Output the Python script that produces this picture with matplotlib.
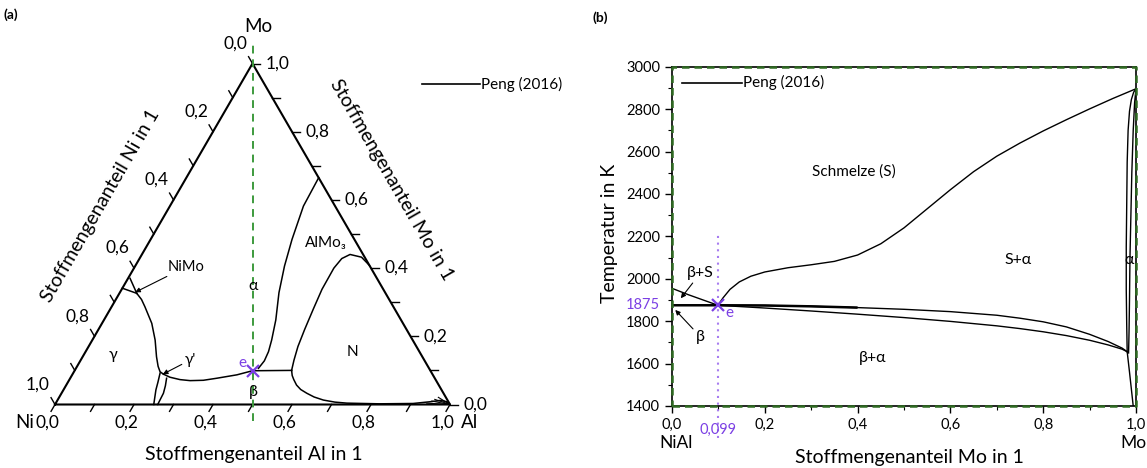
import numpy as np
import matplotlib
matplotlib.use("Agg")
import matplotlib.pyplot as plt

plt.rcParams["font.family"] = ["Lato", "DejaVu Sans"]

PURPLE = "#7b3fe4"
PURPLE_LIGHT = "#a77cf0"
GREEN = "#3d9a3d"
DARK_GREEN = "#2f6a22"
H = np.sqrt(3) / 2

# ---- (a) isothermal section Ni-Al-Mo, compositions as (x_Al, x_Mo) ----
tern_ticks = [0.0, 0.2, 0.4, 0.6, 0.8, 1.0]

# alpha / AlMo3
b_alpha_al = [0.335, 0.338, 0.358, 0.378, 0.403, 0.435, 0.454, 0.463, 0.466, 0.462]
b_alpha_mo = [0.665, 0.582, 0.484, 0.406, 0.328, 0.248, 0.189, 0.155, 0.128, 0.106]
# AlMo3 / N dome
b_dome_al = [0.592, 0.560, 0.527, 0.512, 0.506, 0.507, 0.514, 0.522, 0.530, 0.540, 0.549]
b_dome_mo = [0.408, 0.432, 0.440, 0.428, 0.400, 0.338, 0.280, 0.220, 0.170, 0.130, 0.100]
# three-phase tie line from e to N
b_tie_al = [0.4505, 0.549]
b_tie_mo = [0.099, 0.100]
# lower boundary of N towards the Al corner
b_n_al = [0.549, 0.558, 0.568, 0.583, 0.600, 0.621, 0.645, 0.673, 0.705, 0.737, 0.820, 0.905, 0.945, 0.970, 0.988, 1.0]
b_n_mo = [0.100, 0.085, 0.073, 0.057, 0.044, 0.033, 0.022, 0.013, 0.007, 0.004, 0.002, 0.003, 0.008, 0.012, 0.008, 0.0]
# fan of lines into the Al corner
fan_al = [0.939, 0.949, 0.954, 0.960]
fan_mo = [0.004, 0.010, 0.015, 0.021]
# gamma' / beta
b_gp_al = [0.230, 0.251, 0.280, 0.307, 0.340, 0.371, 0.417, 0.4505]
b_gp_mo = [0.089, 0.080, 0.073, 0.070, 0.071, 0.077, 0.087, 0.099]
# gamma boundary coming down from NiMo
b_gam_al = [0.044, 0.065, 0.084, 0.126, 0.159, 0.187, 0.205, 0.218, 0.230]
b_gam_mo = [0.326, 0.308, 0.287, 0.238, 0.189, 0.140, 0.112, 0.096, 0.089]
# gamma / gamma' two-phase field down to the Ni-Al edge
b_g1_al = [0.220, 0.228, 0.234, 0.250]
b_g1_mo = [0.092, 0.065, 0.043, 0.0]
b_g2_al = [0.244, 0.252, 0.258, 0.260]
b_g2_mo = [0.077, 0.055, 0.033, 0.0]
# NiMo corner field
nimo1_al = [0.0, 0.044]
nimo1_mo = [0.341, 0.326]
nimo2_al = [0.005, 0.044]
nimo2_mo = [0.370, 0.326]

e_al, e_mo = 0.4505, 0.099

# ---- (b) quasi-binary section NiAl-Mo ----
liq_r_x = [0.099, 0.110, 0.125, 0.145, 0.170, 0.200, 0.250, 0.300, 0.350, 0.400,
           0.450, 0.500, 0.550, 0.600, 0.650, 0.700, 0.750, 0.800, 0.850, 0.900,
           0.950, 1.0]
liq_r_t = [1875, 1910, 1950, 1985, 2012, 2032, 2052, 2066, 2082, 2112,
           2165, 2240, 2330, 2420, 2505, 2578, 2640, 2697, 2750, 2801,
           2850, 2896]
liq_l_x = [0.0, 0.035, 0.067, 0.099]
liq_l_t = [1955, 1925, 1900, 1875]
eut_x = [0.0, 0.099, 0.200, 0.300, 0.400]
eut_t = [1875, 1875, 1874, 1870, 1864]
sol_up_x = [0.099, 0.200, 0.300, 0.400, 0.500, 0.600, 0.700, 0.750, 0.800, 0.850,
            0.900, 0.940, 0.970, 0.981]
sol_up_t = [1875, 1874, 1870, 1864, 1856, 1845, 1828, 1814, 1797, 1773,
            1738, 1704, 1673, 1656]
sol_lo_x = [0.099, 0.200, 0.300, 0.400, 0.500, 0.600, 0.700, 0.750, 0.800, 0.850,
            0.900, 0.940, 0.970, 0.981]
sol_lo_t = [1875, 1862, 1848, 1833, 1817, 1799, 1778, 1765, 1750, 1732,
            1710, 1688, 1668, 1656]
alpha_liq_x = [1.0, 0.995, 0.990, 0.986, 0.983, 0.981, 0.980, 0.979, 0.979, 0.980, 0.981]
alpha_liq_t = [2896, 2880, 2845, 2790, 2700, 2550, 2350, 2150, 1950, 1780, 1656]
alpha_sol_x = [1.0, 0.997, 0.994, 0.991, 0.989, 0.987, 0.986, 0.985, 0.984]
alpha_sol_t = [2896, 2830, 2700, 2500, 2300, 2100, 1900, 1750, 1650]
alpha_low_x = [0.981, 0.986, 0.990, 0.994]
alpha_low_t = [1656, 1560, 1480, 1400]
e_x, e_t = 0.099, 1875

x_ticks = [0.0, 0.2, 0.4, 0.6, 0.8, 1.0]
x_labels = ["0,0", "0,2", "0,4", "0,6", "0,8", "1,0"]
t_ticks = [1400, 1600, 1800, 2000, 2200, 2400, 2600, 2800, 3000]


def txy(al, mo):
    al = np.asarray(al, dtype=float)
    mo = np.asarray(mo, dtype=float)
    return al + mo / 2, mo * H


def comma(v):
    return f"{v:.1f}".replace(".", ",")


fig = plt.figure(figsize=(11.47, 4.68), dpi=100)

# ------------------------------------------------------------------ (a)
ax = fig.add_axes([55 / 1147, 1 - 404.5 / 468, 395 / 1147, 341 / 468])
ax.set_xlim(0, 1)
ax.set_ylim(0, H)
ax.axis("off")

kw = dict(color="black", lw=1.0, clip_on=False)
ax.plot([0, 1, 0.5, 0], [0, 0, H, 0], color="black", lw=1.5, clip_on=False)

L = 0.02
for v in np.arange(0, 1.001, 0.1):
    # Al axis (bottom)
    ax.plot([v, v - 0.5 * L], [0, -H * L], **kw)
    # Mo axis (right edge)
    x0, y0 = txy(1 - v, v)
    ax.plot([x0, x0 + L], [y0, y0], **kw)
    # Ni axis (left edge)
    x0, y0 = txy(0, 1 - v)
    ax.plot([x0, x0 - 0.5 * L], [y0, y0 + H * L], **kw)

for v in tern_ticks:
    ax.text(v - 0.02, -0.045, comma(v), ha="center", va="center", fontsize=12.5)
    x0, y0 = txy(1 - v, v)
    ax.text(x0 + 0.033, y0, comma(v), ha="left", va="center", fontsize=12.5)
    x0, y0 = txy(0, 1 - v)
    ax.text(x0 - 0.043, y0 + 0.051, comma(v), ha="center", va="center", fontsize=12.5)

ax.text(-0.076, -0.045, "Ni", ha="center", va="center", fontsize=13.5)
ax.text(1.05, -0.045, "Al", ha="center", va="center", fontsize=13.5)
ax.text(0.515, 0.961, "Mo", ha="center", va="center", fontsize=13.5)
ax.text(0.504, -0.128, "Stoffmengenanteil Al in 1", ha="center", va="center", fontsize=14)
ax.text(0.114, 0.505, "Stoffmengenanteil Ni in 1", ha="center", va="center",
        fontsize=14, rotation=60, rotation_mode="anchor")
ax.text(0.851, 0.571, "Stoffmengenanteil Mo in 1", ha="center", va="center",
        fontsize=14, rotation=-60, rotation_mode="anchor")

ax.plot([0.5, 0.5], [-0.041, 0.923], color=GREEN, lw=1.4, ls=(0, (4, 3)), clip_on=False)

for xs, ys in [(b_alpha_al, b_alpha_mo), (b_dome_al, b_dome_mo), (b_tie_al, b_tie_mo),
               (b_n_al, b_n_mo), (b_gp_al, b_gp_mo), (b_gam_al, b_gam_mo),
               (b_g1_al, b_g1_mo), (b_g2_al, b_g2_mo), (nimo1_al, nimo1_mo),
               (nimo2_al, nimo2_mo)]:
    px, py = txy(xs, ys)
    ax.plot(px, py, color="black", lw=1.1, clip_on=False)
for a, m in zip(fan_al, fan_mo):
    px, py = txy([a, 1.0], [m, 0.0])
    ax.plot(px, py, color="black", lw=0.8, clip_on=False)

ex, ey = txy(e_al, e_mo)
ax.plot(ex, ey, marker="x", color=PURPLE, ms=8, mew=1.6, clip_on=False)
ax.text(0.475, 0.105, "e", color=PURPLE, ha="center", va="center", fontsize=11)

ax.text(0.501, 0.300, "α", ha="center", va="center", fontsize=11.5)
ax.text(0.686, 0.411, "AlMo₃", ha="center", va="center", fontsize=11)
ax.text(0.754, 0.133, "N", ha="center", va="center", fontsize=11)
ax.text(0.147, 0.125, "γ", ha="center", va="center", fontsize=11.5)
ax.text(0.501, 0.032, "β", ha="center", va="center", fontsize=11.5)

arrow = dict(arrowstyle="-|>", color="black", lw=0.8, mutation_scale=7, shrinkA=0, shrinkB=0)
ax.annotate("NiMo", xy=(0.203, 0.285), xytext=(0.286, 0.350), fontsize=10.5,
            ha="left", va="center", arrowprops=arrow, annotation_clip=False)
ax.annotate("γ'", xy=(0.273, 0.077), xytext=(0.328, 0.113), fontsize=11,
            ha="left", va="center", arrowprops=arrow, annotation_clip=False)

ax.plot([0.929, 1.076], [0.814, 0.814], color="black", lw=1.2, clip_on=False)
ax.text(1.078, 0.814, "Peng (2016)", ha="left", va="center", fontsize=11)

# ------------------------------------------------------------------ (b)
bx = fig.add_axes([672 / 1147, 1 - 406 / 468, 464 / 1147, 339.3 / 468])
bx.set_xlim(0, 1)
bx.set_ylim(1400, 3000)
bx.set_xticks(x_ticks)
bx.set_xticklabels(x_labels)
bx.set_xticks(np.arange(0.1, 1.0, 0.2), minor=True)
bx.set_yticks(t_ticks)
bx.set_yticks(np.arange(1500, 3000, 200), minor=True)
bx.tick_params(direction="out", length=5, width=1.0, labelsize=10.5, pad=3.5)
bx.tick_params(which="minor", direction="out", length=3, width=0.8)
for s in bx.spines.values():
    s.set_linewidth(1.2)
    s.set_color("black")
# dashed green frame on top of the spines
bx.plot([0, 1, 1, 0, 0], [1400, 1400, 3000, 3000, 1400], color=DARK_GREEN,
        lw=1.8, ls=(0, (3, 2)), clip_on=False, zorder=5)

line = dict(color="black", lw=1.0)
bx.plot(liq_r_x, liq_r_t, **line)
bx.plot(liq_l_x, liq_l_t, **line)
bx.plot(eut_x, eut_t, color="black", lw=1.8, solid_capstyle="butt")
bx.plot(sol_up_x, sol_up_t, **line)
bx.plot(sol_lo_x, sol_lo_t, **line)
bx.plot(alpha_liq_x, alpha_liq_t, **line)
bx.plot(alpha_sol_x, alpha_sol_t, **line)
bx.plot(alpha_low_x, alpha_low_t, **line)

bx.plot([e_x, e_x], [1250, 2215], color=PURPLE_LIGHT, lw=1.5, ls=(0, (1, 2.2)), clip_on=False)
bx.plot(e_x, e_t, marker="x", color=PURPLE, ms=8, mew=1.6, zorder=6)
bx.text(0.123, 1837, "e", color=PURPLE, ha="center", va="center", fontsize=11)
bx.text(-0.026, e_t, "1875", color=PURPLE, ha="right", va="center", fontsize=10.5)
bx.text(e_x, 1287, "0,099", color=PURPLE, ha="center", va="center", fontsize=10.5)
bx.text(0.008, 1226, "NiAl", ha="center", va="center", fontsize=12.5)
bx.text(0.995, 1226, "Mo", ha="center", va="center", fontsize=12.5)

bx.text(0.393, 2505, "Schmelze (S)", ha="center", va="center", fontsize=11)
bx.text(0.746, 2088, "S+α", ha="center", va="center", fontsize=11.5)
bx.text(0.986, 2088, "α", ha="center", va="center", fontsize=11.5)
bx.text(0.433, 1625, "β+α", ha="center", va="center", fontsize=11.5)
bx.annotate("β+S", xy=(0.019, 1908), xytext=(0.061, 2026), fontsize=11.5,
            ha="center", va="center", arrowprops=arrow)
bx.annotate("β", xy=(0.007, 1853), xytext=(0.061, 1727), fontsize=11.5,
            ha="center", va="center", arrowprops=arrow)

bx.plot([0.022, 0.151], [2925, 2925], color="black", lw=1.2)
bx.text(0.152, 2925, "Peng (2016)", ha="left", va="center", fontsize=11)

fig.text(609 / 1147, 1 - 233 / 468, "Temperatur in K", rotation=90,
         ha="center", va="center", fontsize=14)
fig.text(909 / 1147, 1 - 457 / 468, "Stoffmengenanteil Mo in 1",
         ha="center", va="center", fontsize=14)

fig.text(11 / 1147, 1 - 15 / 468, "(a)", ha="center", va="center", fontsize=10, weight="bold")
fig.text(600 / 1147, 1 - 18 / 468, "(b)", ha="center", va="center", fontsize=10, weight="bold")

fig.savefig("out.png", dpi=100, facecolor="white")
